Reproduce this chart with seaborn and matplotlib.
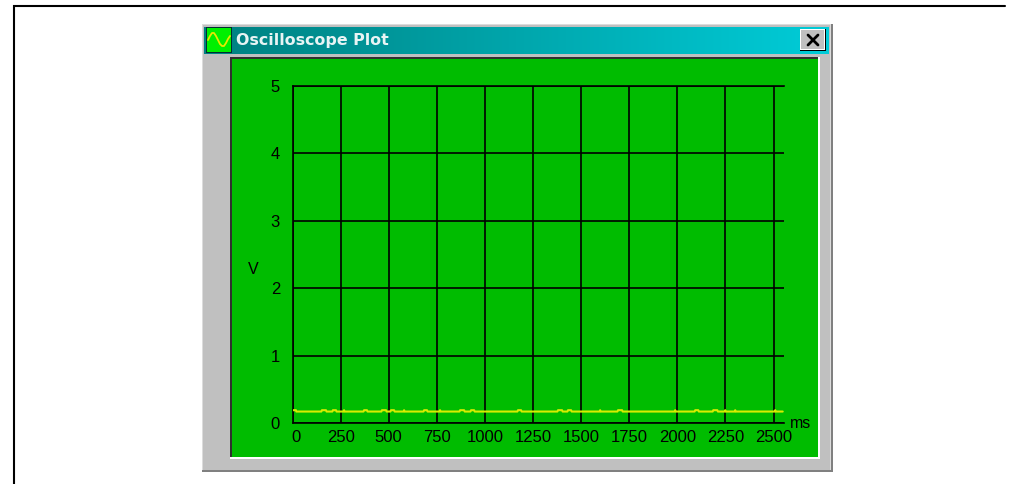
import numpy as np
import pandas as pd
import matplotlib
matplotlib.use('Agg')
import matplotlib.pyplot as plt
from matplotlib.patches import Rectangle
from matplotlib.transforms import ScaledTranslation
import seaborn as sns

# --- Data ---
x_ticks = [0, 250, 500, 750, 1000, 1250, 1500, 1750, 2000, 2250, 2500]
y_ticks = [0, 1, 2, 3, 4, 5]
title = 'Oscilloscope Plot'

time_ms = [0, 18, 20, 150, 153, 174, 177, 207, 210, 226, 229, 265, 268, 271, 369, 372, 387, 390,
           462, 465, 486, 489, 509, 512, 528, 531, 577, 580, 583, 681, 684, 699, 702, 764, 767, 770,
           868, 871, 892, 895, 925, 928, 944, 947, 1169, 1172, 1188, 1191, 1377, 1380, 1401, 1404,
           1429, 1432, 1448, 1451, 1596, 1599, 1602, 1689, 1692, 1713, 1716, 1986, 1989, 1992,
           2090, 2093, 2109, 2112, 2184, 2187, 2208, 2211, 2246, 2249, 2252, 2298, 2301, 2304,
           2506, 2509, 2512, 2548]
volts = [0.19, 0.19, 0.17, 0.17, 0.19, 0.19, 0.17, 0.17, 0.19, 0.19, 0.17, 0.17, 0.19, 0.17, 0.17, 0.19, 0.19, 0.17,
         0.17, 0.19, 0.19, 0.17, 0.17, 0.19, 0.19, 0.17, 0.17, 0.19, 0.17, 0.17, 0.19, 0.19, 0.17, 0.17, 0.19, 0.17,
         0.17, 0.19, 0.19, 0.17, 0.17, 0.19, 0.19, 0.17, 0.17, 0.19, 0.19, 0.17, 0.17, 0.19, 0.19, 0.17,
         0.17, 0.19, 0.19, 0.17, 0.17, 0.19, 0.17, 0.17, 0.19, 0.19, 0.17, 0.17, 0.19, 0.17,
         0.17, 0.19, 0.19, 0.17, 0.17, 0.19, 0.19, 0.17, 0.17, 0.19, 0.17, 0.17, 0.19, 0.17,
         0.17, 0.19, 0.17, 0.17]

# --- Visual settings ---
sns.set_theme(style='white')
plt.rcParams['font.family'] = ['Liberation Sans', 'DejaVu Sans']

W, H = 1018, 484
GREEN = '#00bc00'
GREY = '#c0c0c0'

fig = plt.figure(figsize=(W / 100, H / 100), dpi=100, facecolor='white')

# window chrome, drawn in pixel coordinates on a full-figure axes
bg = fig.add_axes([0, 0, 1, 1], zorder=0)
bg.set_xlim(0, W)
bg.set_ylim(H, 0)
bg.axis('off')


def box(ax, x0, y0, x1, y1, color, z=1):
    ax.add_patch(Rectangle((x0, y0), x1 - x0, y1 - y0, fc=color, ec='none', zorder=z))


# page border
bg.plot([14, 14, 1005], [484, 6, 6], color='black', lw=1.5, solid_joinstyle='miter')

# window frame
box(bg, 202, 24, 833, 472, '#808080')
box(bg, 202, 24, 831, 470, '#dcdcdc')
box(bg, 203, 25, 830, 470, GREY)

# title bar with gradient
bar = np.linspace(0, 1, 256).reshape(1, -1)
bar_rgb = np.stack([0 * bar, (128 + 76 * bar) / 255, (128 + 88 * bar) / 255], axis=2)
bg.imshow(bar_rgb, extent=(204, 829, 54, 27), aspect='auto', zorder=2)
bg.set_xlim(0, W)
bg.set_ylim(H, 0)
bg.text(236, 40, title, color='#e8f4f4', fontsize=11.4, fontweight='bold', va='center', ha='left',
        family=['DejaVu Sans'], zorder=3)

# icon
box(bg, 206, 27, 232, 53, '#003030', z=3)
box(bg, 207, 28, 231, 52, '#00f000', z=4)
icon_x = [208, 210, 212, 214, 216, 218, 220, 222, 224, 226, 228, 230]
icon_y = [40, 36, 33, 33, 36, 40, 44, 46, 46, 43, 39, 36]
bg.plot(icon_x, icon_y, color='#e8e800', lw=1.3, zorder=5)

# close button
box(bg, 800, 29, 826, 51, 'black', z=3)
box(bg, 800, 29, 825, 50, 'white', z=3)
box(bg, 801, 30, 824, 49, GREY, z=4)
bg.plot([808, 818], [35, 45], color='black', lw=2, zorder=5)
bg.plot([808, 818], [45, 35], color='black', lw=2, zorder=5)

# plot panel: dark top and left edge, white bottom and right edge
box(bg, 230, 57, 820, 459, 'white', z=2)
box(bg, 230, 57, 818, 457, '#303030', z=2)
box(bg, 232, 59, 818, 457, GREEN, z=3)

# --- Plot axes: x 0 at px 292.5, 250 ms = 48.1 px; y 5 V at px 86, 0 V at px 423 ---
ax_left, ax_right, ax_top, ax_bot = 292.5, 784, 86, 423
ax = fig.add_axes([ax_left / W, 1 - ax_bot / H, (ax_right - ax_left) / W, (ax_bot - ax_top) / H], zorder=1)
ax.patch.set_alpha(0)

df = pd.DataFrame({'ms': time_ms, 'V': volts})
sns.lineplot(data=df, x='ms', y='V', estimator=None, sort=False, color='#d8ec00', lw=1.5, ax=ax, zorder=5)

ax.set_xlim(0, (ax_right - ax_left) / 48.1 * 250)
ax.set_ylim(0, 5)
ax.set_xticks(x_ticks)
ax.set_yticks(y_ticks)
ax.set_xticklabels([str(t) for t in x_ticks])
ax.set_yticklabels([str(t) for t in y_ticks])
ax.grid(True, color='black', lw=1.2)
ax.set_axisbelow(True)
ax.tick_params(axis='both', length=0, labelsize=12, colors='black')
ax.tick_params(axis='x', pad=5)
ax.tick_params(axis='y', pad=9)
for side in ['left', 'bottom', 'top']:
    ax.spines[side].set_visible(True)
    ax.spines[side].set_color('black')
    ax.spines[side].set_linewidth(1.2)
ax.spines['right'].set_visible(False)

# the "0" label sits a little right of its tick
first = ax.get_xticklabels()[0]
first.set_transform(first.get_transform() + ScaledTranslation(3.5 / 100, 0, fig.dpi_scale_trans))

ax.set_xlabel('')
ax.set_ylabel('')
ax.annotate('V', xy=(0, 0), xycoords='axes pixels', xytext=(253 - ax_left, ax_bot - 269),
            textcoords='axes pixels', fontsize=11.5, ha='center', va='center', color='black', annotation_clip=False)
ax.annotate('ms', xy=(0, 0), xycoords='axes pixels', xytext=(801 - ax_left, ax_bot - 423),
            textcoords='axes pixels', fontsize=11.5, ha='center', va='center', color='black', annotation_clip=False)

fig.savefig('out.png', dpi=100)
